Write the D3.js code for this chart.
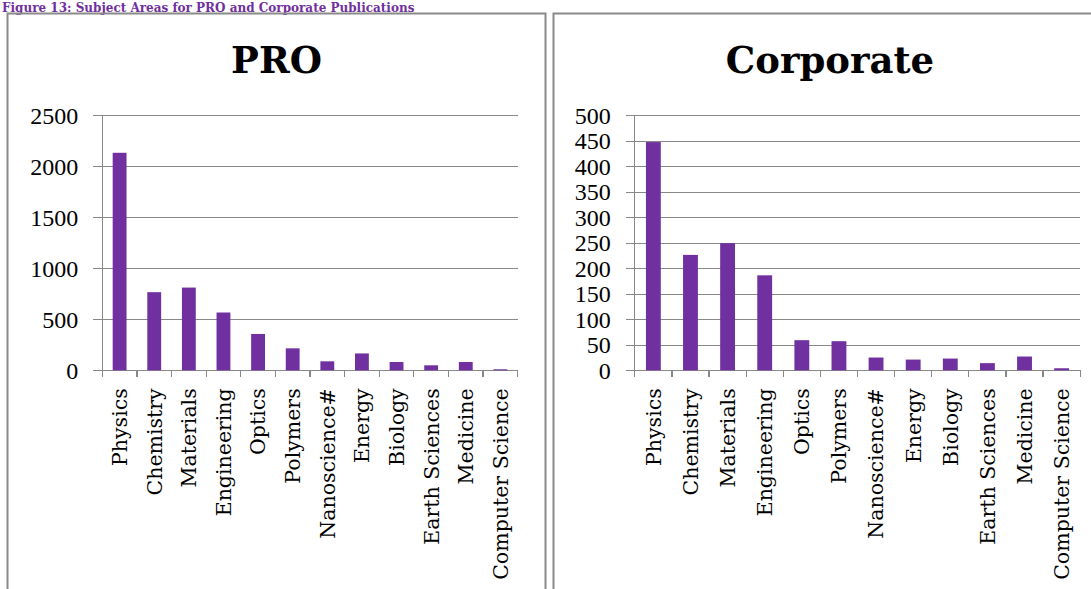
<!DOCTYPE html>
<html>
<head>
<meta charset="UTF-8">
<title>Subject Areas for PRO and Corporate Publications</title>
<script src="https://d3js.org/d3.v7.min.js"></script>
<style>
    body { margin: 0; background: #fff; }
    svg { display: block; }
    .frame { fill: none; stroke: #8a8a8a; stroke-width: 2px; }
    .grid line, .axisline { stroke: #888; stroke-width: 1.25px; shape-rendering: crispEdges; }
    .ytick { font-family: "Liberation Serif", serif; font-size: 24px; fill: #000; }
    .cat { font-family: "DejaVu Serif", serif; font-size: 20.5px; fill: #000; }
    .title { font-family: "DejaVu Serif", serif; font-weight: bold; font-size: 37px; fill: #000; }
    .caption { font-family: "DejaVu Serif", serif; font-weight: bold; font-size: 12px; fill: #7030A0; }
</style>
</head>
<body>
<svg width="1091" height="589"></svg>
<script>
// values
var categories = ["Physics", "Chemistry", "Materials", "Engineering", "Optics", "Polymers",
    "Nanoscience#", "Energy", "Biology", "Earth Sciences", "Medicine", "Computer Science"];
var proValues = [2130, 765, 810, 566, 356, 215, 88, 165, 81, 49, 81, 10];
var corpValues = [447, 226, 249, 186, 59, 57, 25, 21, 23, 14, 27, 4];
var proTicks = [0, 500, 1000, 1500, 2000, 2500];
var corpTicks = [0, 50, 100, 150, 200, 250, 300, 350, 400, 450, 500];

var svg = d3.select("svg");
var barColor = "#7030A0";

svg.append("text")
    .attr("class", "caption")
    .attr("x", 2)
    .attr("y", 11.5)
    .text("Figure 13: Subject Areas for PRO and Corporate Publications");

function drawPanel(opt) {
    var g = svg.append("g");

    g.append("rect")
        .attr("class", "frame")
        .attr("x", opt.frameX)
        .attr("y", 13.5)
        .attr("width", opt.frameW)
        .attr("height", 640);

    g.append("text")
        .attr("class", "title")
        .attr("x", opt.frameX + opt.frameW / 2)
        .attr("y", 73)
        .attr("text-anchor", "middle")
        .text(opt.title);

    var x = d3.scaleBand()
        .domain(categories)
        .range([opt.x0, opt.x1])
        .paddingInner(0.6)
        .paddingOuter(0.3);

    var y = d3.scaleLinear()
        .domain([0, d3.max(opt.ticks)])
        .range([370.3, 115]);

    // gridlines
    g.append("g").attr("class", "grid")
        .selectAll("line")
        .data(opt.ticks)
        .enter().append("line")
        .attr("x1", opt.x0 - 9)
        .attr("x2", opt.x1)
        .attr("y1", function(d) { return Math.round(y(d)) + 0.5; })
        .attr("y2", function(d) { return Math.round(y(d)) + 0.5; });

    // y axis labels
    var yAxis = d3.axisLeft(y)
        .tickValues(opt.ticks)
        .tickFormat(d3.format("d"))
        .tickSize(9)
        .tickPadding(15);
    var ya = g.append("g")
        .attr("transform", "translate(" + opt.x0 + ",0)")
        .call(yAxis);
    ya.select(".domain").remove();
    ya.selectAll(".tick line").remove();
    ya.selectAll(".tick text")
        .attr("class", "ytick")
        .attr("fill", null)
        .attr("dy", "0.34em");
    ya.attr("font-family", null).attr("font-size", null);

    // y axis line
    g.append("line")
        .attr("class", "axisline")
        .attr("x1", opt.x0).attr("x2", opt.x0)
        .attr("y1", y(d3.max(opt.ticks)))
        .attr("y2", y(0) + 7);

    // x boundary ticks
    var step = x.step();
    g.append("g").attr("class", "grid")
        .selectAll("line")
        .data(d3.range(categories.length + 1))
        .enter().append("line")
        .attr("x1", function(i) { return opt.x0 + i * step; })
        .attr("x2", function(i) { return opt.x0 + i * step; })
        .attr("y1", y(0))
        .attr("y2", y(0) + 7);

    // bars
    g.append("g")
        .selectAll("rect")
        .data(opt.values)
        .enter().append("rect")
        .attr("x", function(d, i) { return x(categories[i]); })
        .attr("width", x.bandwidth())
        .attr("y", function(d) { return y(d); })
        .attr("height", function(d) { return y(0) - y(d); })
        .attr("fill", barColor);

    // category labels
    g.append("g")
        .selectAll("text")
        .data(categories)
        .enter().append("text")
        .attr("class", "cat")
        .attr("text-anchor", "end")
        .attr("dy", "0.36em")
        .attr("transform", function(d) {
            return "translate(" + (x(d) + x.bandwidth() / 2) + "," + (y(0) + 18) + ") rotate(-90)";
        })
        .text(function(d) { return d; });
}

drawPanel({ title: "PRO", frameX: 7.5, frameW: 538, x0: 102.3, x1: 517.7,
    values: proValues, ticks: proTicks });
drawPanel({ title: "Corporate", frameX: 553.5, frameW: 553, x0: 634.8, x1: 1080.2,
    values: corpValues, ticks: corpTicks });
</script>
</body>
</html>
